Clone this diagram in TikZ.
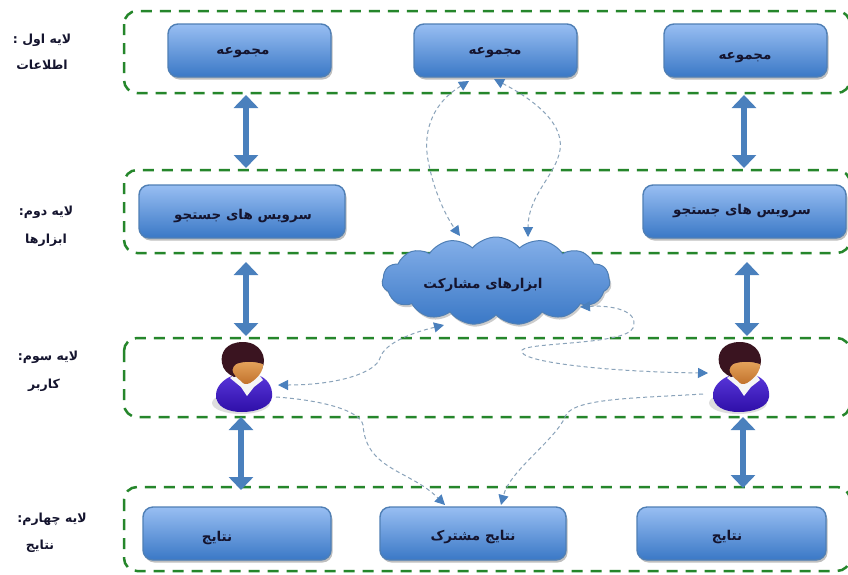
\documentclass[tikz,border=0pt]{standalone}
\usepackage{fontspec}
\usetikzlibrary{arrows.meta,shadows,shapes.symbols,calc}
\TeXXeTstate=1
\newfontfamily\arabicfont[Script=Arabic,Scale=1]{DejaVu Sans}
\newcommand{\fa}[1]{{\arabicfont\bfseries\beginR #1\endR}}
\definecolor{lgreen}{HTML}{25862B}
\definecolor{barrow}{HTML}{4A80BD}
\definecolor{darrow}{HTML}{8AA3BA}
\definecolor{btop}{HTML}{98BEF2}
\definecolor{bbot}{HTML}{3A78C6}
\definecolor{bedge}{HTML}{4F7FB5}
\definecolor{ink}{HTML}{14142E}
\definecolor{hair}{HTML}{3A1420}
\definecolor{suit}{HTML}{3A12D2}
\definecolor{skintop}{HTML}{E8A860}
\definecolor{skinbot}{HTML}{C0702A}
\tikzset{
  layerbox/.style={draw=lgreen,line width=2.5pt,dash pattern=on 11pt off 8pt,rounded corners=13pt},
  bluebox/.style={draw=bedge,line width=1.4pt,rounded corners=10pt,top color=btop,bottom color=bbot,
    drop shadow={shadow xshift=1.5pt,shadow yshift=-2.5pt,fill=black!50,opacity=.5}},
  boxtext/.style={font=\fontsize{13.5}{15}\selectfont,text=ink,yshift=-3pt},
  laylabel/.style={font=\fontsize{12.5}{14}\selectfont,text=ink,yshift=-2pt},
  bigarrow/.style={draw=barrow,line width=6pt,{Triangle[width=24pt,length=13pt]}-{Triangle[width=24pt,length=13pt]}},
  dasharrow/.style={draw=darrow,line width=1pt,dash pattern=on 4pt off 3pt,
    {Triangle[width=10pt,length=10pt,color=barrow]}-{Triangle[width=10pt,length=10pt,color=barrow]}},
  dashend/.style={draw=darrow,line width=1pt,dash pattern=on 4pt off 3pt,
    -{Triangle[width=10pt,length=10pt,color=barrow]}},
  pics/person/.style={code={
    \fill[black!25,opacity=.5] (-3,28) ellipse (29 and 11);
    \shade[top color=suit!85!white,bottom color=suit!80!black]
      (-28,20) .. controls (-28,10) and (-18,3) .. (-12,1) -- (14,0) .. controls (22,3) and (29,10) .. (28,22)
      .. controls (27,32) and (12,37) .. (-2,37) .. controls (-16,37) and (-28,32) .. (-28,20) -- cycle;
    \fill[white!92!gray] (-14,3) -- (-9,-1) -- (14,-2) -- (19,5) -- (10,12) -- (3,21) -- (-3,12) -- cycle;
    \fill[hair] (-1,-33) .. controls (-18,-33) and (-24,-22) .. (-22,-12)
      .. controls (-21,-5) and (-16,-1) .. (-10,2) -- (18,-6) .. controls (24,-18) and (16,-33) .. (-1,-33) -- cycle;
    \shade[top color=skintop,bottom color=skinbot] (-14,-13) .. controls (-6,-16) and (10,-16) .. (19,-13)
      .. controls (20,-4) and (14,3) .. (6,8) .. controls (2,10) and (-1,9) .. (-3,6)
      .. controls (-9,2) and (-14,-6) .. (-14,-13) -- cycle;
    \fill[hair] (-15,-16) .. controls (-5,-19) and (10,-19) .. (20,-15) -- (19,-11)
      .. controls (10,-14) and (0,-14) .. (-8,-11) .. controls (-12,-8) and (-12,-4) .. (-11,0) .. controls (-14,-4) and (-16,-10) .. (-15,-16) -- cycle;
  }}
}
\begin{document}
\begin{tikzpicture}[x=1pt,y=-1pt]
\useasboundingbox (0,0) rectangle (848,574);
\fill[white] (0,0) rectangle (848,574);

% layers
\draw[layerbox] (124,11) rectangle (850,93);
\draw[layerbox] (124,170) rectangle (850,253);
\draw[layerbox] (124,338) rectangle (850,417);
\draw[layerbox] (124,487) rectangle (850,571);

% cloud
\node[cloud,cloud puffs=15,cloud puff arc=100,aspect=2.5,draw=bedge,line width=1pt,top color=btop!80!bbot,bottom color=bbot,
  minimum width=228pt,minimum height=88pt,inner sep=0pt,
  drop shadow={shadow xshift=1.5pt,shadow yshift=-2.5pt,fill=black!50,opacity=.4}] (cl) at (496,281) {};
\node[boxtext] (clt) at (483,282) {\fa{ابزارهای مشارکت}};

% blue boxes
\node[bluebox,minimum width=163pt,minimum height=53pt,inner sep=0pt] (a1) at (249.5,50.5) {};
\node[boxtext] at (243,50) {\fa{مجموعه}};
\node[bluebox,minimum width=163pt,minimum height=53pt,inner sep=0pt] (a2) at (495.5,50.5) {};
\node[boxtext] at (495,50) {\fa{مجموعه}};
\node[bluebox,minimum width=163pt,minimum height=53pt,inner sep=0pt] (a3) at (745.5,50.5) {};
\node[boxtext] at (745,55) {\fa{مجموعه}};
\node[bluebox,minimum width=206pt,minimum height=53pt,inner sep=0pt] (b1) at (242,211.5) {};
\node[boxtext] at (243,213) {\fa{سرویس های جستجو}};
\node[bluebox,minimum width=203pt,minimum height=53pt,inner sep=0pt] (b2) at (744.5,211.5) {};
\node[boxtext] at (742,208) {\fa{سرویس های جستجو}};
\node[bluebox,minimum width=188pt,minimum height=53pt,inner sep=0pt] (c1) at (237,533.5) {};
\node[boxtext] at (217,535) {\fa{نتایج}};
\node[bluebox,minimum width=186pt,minimum height=53pt,inner sep=0pt] (c2) at (473,533.5) {};
\node[boxtext] at (473,534) {\fa{نتایج مشترک}};
\node[bluebox,minimum width=189pt,minimum height=53pt,inner sep=0pt] (c3) at (731.5,533.5) {};
\node[boxtext] at (727,534) {\fa{نتایج}};

% persons
\node[inner sep=0pt,minimum width=56pt,minimum height=72pt] (u1) at (244,376) {};
\pic at (244,375) {person};
\node[inner sep=0pt,minimum width=56pt,minimum height=72pt] (u2) at (741,376) {};
\pic at (741,375) {person};

% thick arrows
\coordinate (s1) at (246,95);
\coordinate (s2) at (246,168);
\draw[bigarrow] (s1) -- (s2);
\coordinate (s3) at (744,95);
\coordinate (s4) at (744,168);
\draw[bigarrow] (s3) -- (s4);
\coordinate (s5) at (246,262);
\coordinate (s6) at (246,336);
\draw[bigarrow] (s5) -- (s6);
\coordinate (s7) at (747,262);
\coordinate (s8) at (747,336);
\draw[bigarrow] (s7) -- (s8);
\coordinate (s9) at (241,417);
\coordinate (s10) at (241,490);
\draw[bigarrow] (s9) -- (s10);
\coordinate (s11) at (743,417);
\coordinate (s12) at (743,488);
\draw[bigarrow] (s11) -- (s12);

% dashed curves
\coordinate (d1a) at (469,81);
\coordinate (d1b) at (460,236);
\draw[dasharrow] (d1a) .. controls (430,105) and (422,135) .. (429,165) .. controls (434,190) and (445,215) .. (d1b);
\coordinate (d2a) at (494,79);
\coordinate (d2b) at (528,237);
\draw[dasharrow] (d2a) .. controls (525,95) and (565,120) .. (560,150) .. controls (556,175) and (528,195) .. (d2b);
\coordinate (d3a) at (444,325);
\coordinate (d3b) at (278,385);
\draw[dasharrow] (d3a) .. controls (415,332) and (385,342) .. (380,358) .. controls (376,372) and (340,385) .. (d3b);
\coordinate (d4a) at (580,307);
\coordinate (d4b) at (708,373);
\draw[dasharrow] (d4a) .. controls (610,305) and (640,310) .. (633,328) .. controls (625,345) and (530,342) .. (522,350)
  .. controls (515,362) and (610,372) .. (d4b);
\coordinate (d5a) at (276,397);
\coordinate (d5b) at (445,505);
\draw[dashend] (d5a) .. controls (320,400) and (360,410) .. (363,425) .. controls (366,470) and (410,470) .. (d5b);
\coordinate (d6a) at (703,394);
\coordinate (d6b) at (501,505);
\draw[dashend] (d6a) .. controls (640,398) and (575,398) .. (566,415) .. controls (556,440) and (510,470) .. (d6b);

% labels
\node[laylabel] at (42,38) {\fa{لایه اول :}};
\node[laylabel] at (42,63) {\fa{اطلاعات}};
\node[laylabel] at (46,210) {\fa{لایه دوم:}};
\node[laylabel] at (46,238) {\fa{ابزارها}};
\node[laylabel] at (48,355) {\fa{لایه سوم:}};
\node[laylabel] at (44,383) {\fa{کاربر}};
\node[laylabel] at (52,517) {\fa{لایه چهارم:}};
\node[laylabel] at (40,544) {\fa{نتایج}};
\end{tikzpicture}
\end{document}
